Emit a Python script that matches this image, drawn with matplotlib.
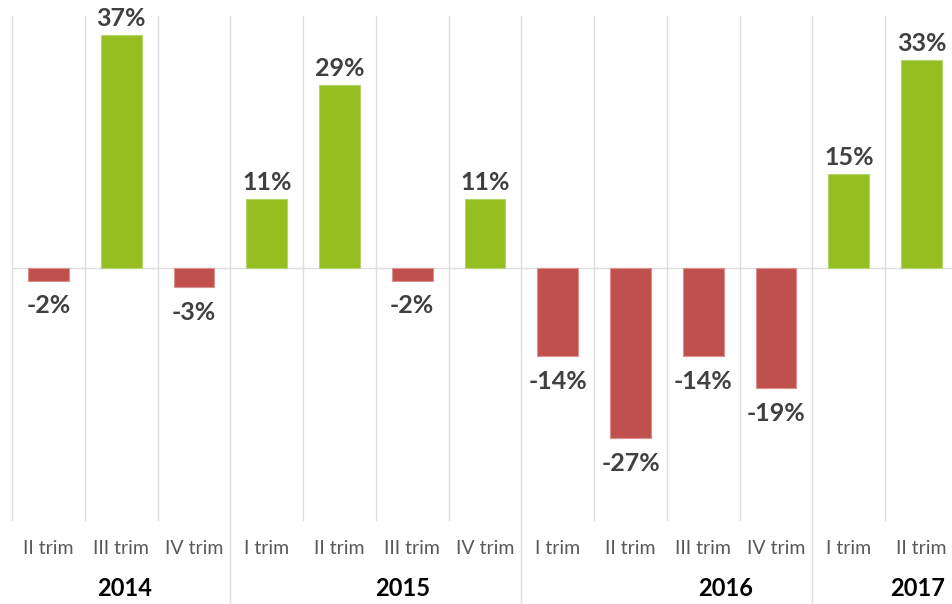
import matplotlib
matplotlib.use("Agg")
import matplotlib.pyplot as plt
import matplotlib.transforms as mtransforms

quarters = ["II trim", "III trim", "IV trim",
            "I trim", "II trim", "III trim", "IV trim",
            "I trim", "II trim", "III trim", "IV trim",
            "I trim", "II trim"]
values = [-2, 37, -3, 11, 29, -2, 11, -14, -27, -14, -19, 15, 33]
years = ["2014", "2015", "2016", "2017"]
year_sizes = [3, 4, 4, 2]

plt.rcParams['font.family'] = ['Lato', 'DejaVu Sans']

W, H = 953, 604
fig = plt.figure(figsize=(W / 100, H / 100), dpi=100)
ax = fig.add_axes([12 / W, 1 - 520 / H, (958 - 12) / W, (520 - 16) / H])

green = "#95BF21"
red = "#C0504D"
grid = "#DEDEDE"

n = len(values)
xs = list(range(n))
colors = [green if v >= 0 else red for v in values]
edges = ["#B4D36A" if v >= 0 else "#D9908E" for v in values]
ax.bar(xs, values, width=0.56, color=colors, edgecolor=edges, linewidth=0.8, zorder=3)

ax.set_xlim(-0.5, n - 0.5)
ax.set_ylim(-40, 40)
ax.axis("off")

# zero line
ax.axhline(0, color=grid, lw=1.0, zorder=2)

# category boundaries
bounds = []
acc = 0
for s in year_sizes[:-1]:
    acc += s
    bounds.append(acc - 0.5)
tr = mtransforms.blended_transform_factory(ax.transData, ax.transAxes)
for b in [i - 0.5 for i in range(n + 1)]:
    if b in bounds:
        ax.plot([b, b], [1, -0.2], color=grid, lw=1.0, transform=tr, clip_on=False, zorder=1)
    else:
        ax.plot([b, b], [1, 0], color=grid, lw=1.0, transform=tr, clip_on=False, zorder=1)

# data labels
for x, v in zip(xs, values):
    if v >= 0:
        ax.annotate(f"{v}%", (x, v), xytext=(0, 3.5), textcoords="offset points",
                    ha="center", va="bottom", fontsize=18, fontweight="bold", color="#404040")
    else:
        ax.annotate(f"{v}%", (x, v), xytext=(0, -10), textcoords="offset points",
                    ha="center", va="top", fontsize=18, fontweight="bold", color="#404040")

# quarter labels
trf = mtransforms.blended_transform_factory(ax.transData, fig.transFigure)
for x, q in zip(xs, quarters):
    ax.text(x, 1 - 548 / H, q, transform=trf, ha="center", va="center",
            fontsize=14, color="#595959")

# year labels (positions follow the reference layout)
year_pos = [1.04, 4.87, 9.31, 11.94]
for yp, yl in zip(year_pos, years):
    ax.text(yp, 1 - 588 / H, yl, transform=trf, ha="center", va="center",
            fontsize=17, fontweight="bold", color="#000000")

fig.savefig("out.png", dpi=100)
